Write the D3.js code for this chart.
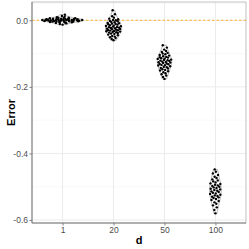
<!DOCTYPE html>
<html>
<head>
<meta charset="utf-8">
<script src="https://cdn.jsdelivr.net/npm/d3@7"></script>
<style>
  body { margin: 0; background: #fff; }
  svg { display: block; font-family: "Liberation Sans", Arial, sans-serif; }
</style>
</head>
<body>
<div id="chart"></div>
<script>
// categories of d
var groups = ["1", "20", "50", "100"];

// error values, one array per d
var err1 = [0.017, 0.013, 0.011, 0.009, 0.008, 0.008, 0.007, 0.006, 0.006, 0.005, 0.005, 0.005, 0.004, 0.004, 0.004,
  0.003, 0.003, 0.003, 0.003, 0.002, 0.002, 0.002, 0.002, 0.001, 0.001, 0.001, 0.001, 0.000, 0.000, 0.000, 0.000, 0.000,
  -0.001, -0.001, -0.001, -0.001, -0.002, -0.002, -0.002, -0.002, -0.003, -0.003, -0.003, -0.004, -0.004, -0.004,
  -0.005, -0.005, -0.006, -0.006, -0.007, -0.008, -0.009, -0.011, -0.013];
var err20 = [0.030, 0.018, 0.012, 0.008, 0.005, 0.003, 0.001, 0.000, -0.002, -0.003, -0.005, -0.006, -0.008, -0.009,
  -0.010, -0.011, -0.012, -0.013, -0.015, -0.016, -0.017, -0.018, -0.019, -0.020, -0.021, -0.022, -0.023, -0.024,
  -0.025, -0.026, -0.027, -0.028, -0.029, -0.030, -0.031, -0.032, -0.033, -0.034, -0.035, -0.036, -0.037, -0.038,
  -0.040, -0.041, -0.043, -0.045, -0.047, -0.049, -0.051, -0.053, -0.056, -0.060];
var err50 = [-0.075, -0.082, -0.088, -0.092, -0.095, -0.098, -0.100, -0.102, -0.104, -0.106, -0.108, -0.110, -0.111,
  -0.112, -0.114, -0.115, -0.116, -0.118, -0.119, -0.120, -0.121, -0.122, -0.124, -0.125, -0.126, -0.127, -0.128,
  -0.130, -0.131, -0.132, -0.134, -0.135, -0.136, -0.138, -0.140, -0.141, -0.143, -0.145, -0.147, -0.149, -0.151,
  -0.153, -0.156, -0.159, -0.162, -0.166, -0.170, -0.176];
var err100 = [-0.448, -0.455, -0.460, -0.465, -0.470, -0.474, -0.478, -0.481, -0.484, -0.487, -0.490, -0.492, -0.494,
  -0.496, -0.498, -0.500, -0.502, -0.504, -0.506, -0.508, -0.510, -0.512, -0.514, -0.516, -0.518, -0.520, -0.522,
  -0.524, -0.526, -0.528, -0.530, -0.532, -0.534, -0.537, -0.540, -0.543, -0.547, -0.551, -0.556, -0.562, -0.570,
  -0.580];

var yTicks = [0, -0.2, -0.4, -0.6];
var yMinor = [0.05, -0.1, -0.3, -0.5];

var series = [err1, err20, err50, err100];

var width = 249, height = 249,
  margin = { top: 2, right: 3, bottom: 26, left: 32 };
var pw = width - margin.left - margin.right,
  ph = height - margin.top - margin.bottom;

var svg = d3.select("#chart").append("svg")
  .attr("width", width)
  .attr("height", height);

var g = svg.append("g")
  .attr("transform", "translate(" + margin.left + "," + margin.top + ")");

// discrete x like ggplot: 0.6 expansion each side
var x = d3.scalePoint()
  .domain(groups)
  .range([pw * 0.6 / 4.2, pw * 3.6 / 4.2]);

var y = d3.scaleLinear()
  .domain([-0.609, 0.055])
  .range([ph, 0]);

// grid
g.selectAll(".minor").data(yMinor).enter().append("line")
  .attr("x1", 0).attr("x2", pw)
  .attr("y1", function (d) { return y(d); })
  .attr("y2", function (d) { return y(d); })
  .style("stroke", "#f3f3f3").style("stroke-width", 0.5);

g.selectAll(".major").data(yTicks).enter().append("line")
  .attr("x1", 0).attr("x2", pw)
  .attr("y1", function (d) { return y(d); })
  .attr("y2", function (d) { return y(d); })
  .style("stroke", "#ebebeb").style("stroke-width", 1);

g.selectAll(".vmajor").data(groups).enter().append("line")
  .attr("y1", 0).attr("y2", ph)
  .attr("x1", function (d) { return x(d); })
  .attr("x2", function (d) { return x(d); })
  .style("stroke", "#ebebeb").style("stroke-width", 1);

// kernel density per group
function kde(values, bw, t) {
  var s = 0;
  values.forEach(function (v) {
    var u = (t - v) / bw;
    s += Math.exp(-0.5 * u * u);
  });
  return s / (values.length * bw * Math.sqrt(2 * Math.PI));
}

var info = series.map(function (vals) {
  var sd = d3.deviation(vals);
  var bw = 0.9 * sd * Math.pow(vals.length, -0.2);
  var lo = d3.min(vals), hi = d3.max(vals);
  var grid = d3.range(lo, hi + 1e-9, (hi - lo) / 60).map(function (t) { return [t, kde(vals, bw, t)]; });
  return { vals: vals, bw: bw, grid: grid, max: d3.max(grid, function (p) { return p[1]; }) };
});
var maxDens = d3.max(info, function (d) { return d.max; });
// half-width of each group's shape
var halfW = function (dv) { return 21 * Math.pow(dv / maxDens, 0.7); };

// van der Corput sequence for quasirandom offsets
function vdc(n) {
  var v = 0, denom = 1;
  while (n > 0) { denom *= 2; v += (n % 2) / denom; n = Math.floor(n / 2); }
  return v;
}

// reference line
g.append("line")
  .attr("x1", 0).attr("x2", pw)
  .attr("y1", y(0)).attr("y2", y(0))
  .style("stroke", "#FFA500")
  .style("stroke-width", 0.8)
  .style("stroke-dasharray", "2.5,2");

info.forEach(function (inf, i) {
  var cx = x(groups[i]);
  // violin outline
  var area = d3.area()
    .y(function (p) { return y(p[0]); })
    .x0(function (p) { return cx - halfW(p[1]); })
    .x1(function (p) { return cx + halfW(p[1]); })
    .curve(d3.curveBasis);
  g.append("path")
    .datum(inf.grid)
    .attr("d", area)
    .style("fill", "none")
    .style("stroke", "#808080")
    .style("stroke-width", 0.6);

  // quasirandom points inside the shape
  var sorted = inf.vals.slice().sort(d3.ascending);
  g.selectAll(".pt" + i).data(sorted).enter().append("circle")
    .attr("cx", function (d, k) {
      var w = halfW(kde(inf.vals, inf.bw, d));
      return cx + (vdc(k + 1) * 2 - 1) * w;
    })
    .attr("cy", function (d) { return y(d); })
    .attr("r", 1.2)
    .style("fill", "black");
});

// panel border
g.append("rect")
  .attr("width", pw).attr("height", ph)
  .style("fill", "none")
  .style("stroke", "#a6a6a6")
  .style("stroke-width", 0.7);
g.append("line").attr("x1", 0).attr("x2", 0).attr("y1", 0).attr("y2", ph)
  .style("stroke", "#7f7f7f").style("stroke-width", 1);
g.append("line").attr("x1", 0).attr("x2", pw).attr("y1", ph).attr("y2", ph)
  .style("stroke", "#7f7f7f").style("stroke-width", 1);

// axes
var yAxis = g.append("g")
  .call(d3.axisLeft(y).tickValues(yTicks).tickSize(2.5).tickPadding(1.5)
    .tickFormat(function (d) { return d3.format(".1f")(d).replace("\u2212", "-"); }));
var xAxis = g.append("g")
  .attr("transform", "translate(0," + ph + ")")
  .call(d3.axisBottom(x).tickSize(2.5).tickPadding(1));
[yAxis, xAxis].forEach(function (a) {
  a.select(".domain").remove();
  a.selectAll(".tick line").style("stroke", "#7f7f7f");
  a.selectAll(".tick text")
    .style("fill", "#4d4d4d")
    .style("font-size", "8.5px")
    .style("font-family", "Liberation Sans, Arial, sans-serif");
});

// titles
svg.append("text")
  .attr("x", margin.left + pw / 2)
  .attr("y", 244)
  .attr("text-anchor", "middle")
  .style("font-size", "11px")
  .style("font-weight", "bold")
  .text("d");

svg.append("text")
  .attr("transform", "translate(15," + (margin.top + ph / 2) + ") rotate(-90)")
  .attr("text-anchor", "middle")
  .style("font-size", "11px")
  .style("font-weight", "bold")
  .text("Error");
</script>
</body>
</html>
